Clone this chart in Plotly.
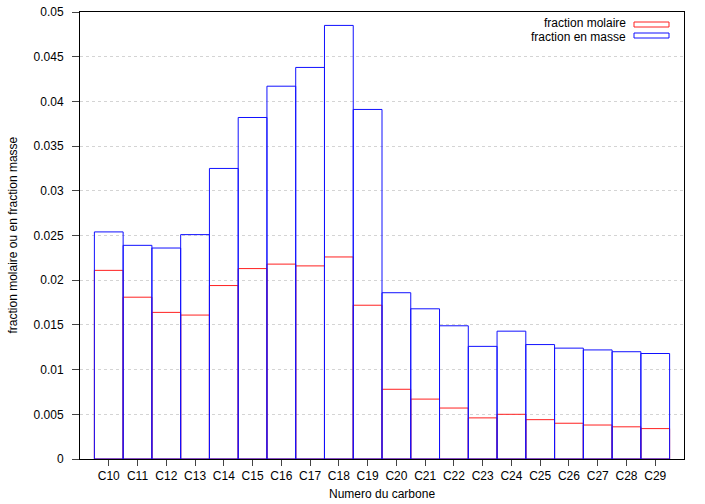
import plotly.graph_objects as go

categories = ["C10", "C11", "C12", "C13", "C14", "C15", "C16", "C17", "C18", "C19",
              "C20", "C21", "C22", "C23", "C24", "C25", "C26", "C27", "C28", "C29"]
fraction_molaire = [0.0211, 0.0181, 0.0164, 0.0161, 0.0194, 0.0213, 0.0218, 0.0216, 0.0226, 0.0172,
                    0.0078, 0.0067, 0.0057, 0.0046, 0.0050, 0.0044, 0.0040, 0.0038, 0.0036, 0.0034]
fraction_masse = [0.0254, 0.0239, 0.0236, 0.0251, 0.0325, 0.0382, 0.0417, 0.0438, 0.0485, 0.0391,
                  0.0186, 0.0168, 0.0149, 0.0126, 0.0143, 0.0128, 0.0124, 0.0122, 0.0120, 0.0118]
y_ticks = [0, 0.005, 0.01, 0.015, 0.02, 0.025, 0.03, 0.035, 0.04, 0.045, 0.05]
y_tick_labels = ["0", "0.005", "0.01", "0.015", "0.02", "0.025", "0.03", "0.035", "0.04", "0.045", "0.05"]

xs = list(range(len(categories)))
FONT = "Liberation Sans, Arial, sans-serif"

fig = go.Figure()
fig.add_trace(go.Bar(x=xs, y=fraction_molaire, width=1, name="fraction molaire",
                     marker=dict(color="rgba(0,0,0,0)", line=dict(color="#ff2020", width=1)),
                     showlegend=False))
fig.add_trace(go.Bar(x=xs, y=fraction_masse, width=1, name="fraction en masse",
                     marker=dict(color="rgba(0,0,0,0)", line=dict(color="#1010ff", width=1)),
                     showlegend=False))

W, H = 705, 504
L, R, T, B = 80, 21, 12, 45
pw, ph = W - L - R, H - T - B

def px(x):
    return (x - L) / pw

def py(y):
    return (H - B - y) / ph

fig.update_layout(
    width=W, height=H,
    margin=dict(l=L, r=R, t=T, b=B),
    barmode="overlay",
    plot_bgcolor="white", paper_bgcolor="white",
    font=dict(family=FONT, size=12, color="black"),
    xaxis=dict(range=[-1, 20], tickmode="array", tickvals=xs, ticktext=categories,
               showgrid=False, zeroline=False, showline=True, linecolor="black", linewidth=1,
               mirror=True, ticks="outside", ticklen=6, tickcolor="#444", automargin=False,
               tickfont=dict(family=FONT, size=12, color="black")),
    yaxis=dict(range=[0, 0.05], tickmode="array", tickvals=y_ticks, ticktext=y_tick_labels,
               showgrid=True, gridcolor="#d4d4d4", griddash="3px,3px", gridwidth=1,
               zeroline=False, showline=True, linecolor="black", linewidth=1,
               mirror=True, ticks="outside", ticklen=7, tickcolor="#444", automargin=False,
               ticklabelstandoff=6,
               tickfont=dict(family=FONT, size=12, color="black")),
)

annotations = [
    dict(text="Numero du carbone", xref="paper", yref="paper", x=0.5, y=py(494),
         xanchor="center", yanchor="middle", showarrow=False, font=dict(size=12)),
    dict(text="fraction molaire ou en fraction masse", xref="paper", yref="paper",
         x=px(12), y=0.5, xanchor="center", yanchor="middle", textangle=-90,
         showarrow=False, font=dict(size=12)),
    dict(text="fraction molaire", xref="paper", yref="paper", x=px(628), y=py(22.8),
         xanchor="right", yanchor="middle", showarrow=False, font=dict(size=12)),
    dict(text="fraction en masse", xref="paper", yref="paper", x=px(628), y=py(36.6),
         xanchor="right", yanchor="middle", showarrow=False, font=dict(size=12)),
]
fig.update_layout(annotations=annotations)

fig.add_shape(type="rect", xref="paper", yref="paper", x0=px(634), x1=px(669),
              y0=py(27), y1=py(22), line=dict(color="#ff2020", width=1))
fig.add_shape(type="rect", xref="paper", yref="paper", x0=px(634), x1=px(669),
              y0=py(38), y1=py(33), line=dict(color="#1010ff", width=1))

fig.write_html("out.html")
